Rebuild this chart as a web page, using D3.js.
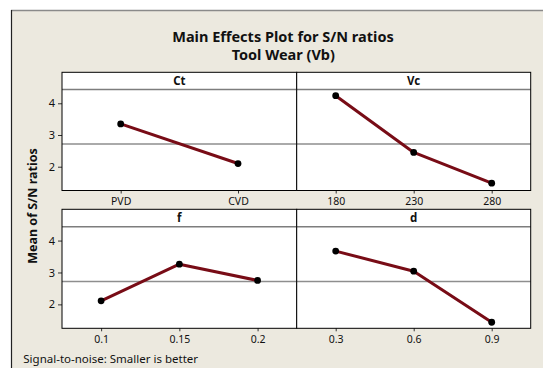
<!DOCTYPE html>
<html>
<head>
<meta charset="utf-8">
<script src="https://cdn.jsdelivr.net/npm/d3@7"></script>
<style>
  html, body { margin: 0; padding: 0; background: #ffffff; }
  svg { display: block; }
  text { font-family: "Noto Sans", "Open Sans", sans-serif; fill: #111; }
</style>
</head>
<body>
<svg id="chart" width="543" height="368"></svg>
<script>
// Factor levels and mean S/N ratios (dB) for tool wear
const ctLevels = ["PVD", "CVD"];
const ctMeans  = [3.35, 2.10];
const vcLevels = ["180", "230", "280"];
const vcMeans  = [4.24, 2.45, 1.48];
const fLevels  = ["0.1", "0.15", "0.2"];
const fMeans   = [2.11, 3.26, 2.75];
const dLevels  = ["0.3", "0.6", "0.9"];
const dMeans   = [3.67, 3.04, 1.44];
const yTicks   = [2, 3, 4];

const factors = [
  { name: "Ct", levels: ctLevels, means: ctMeans, col: 0, row: 0 },
  { name: "Vc", levels: vcLevels, means: vcMeans, col: 1, row: 0 },
  { name: "f",  levels: fLevels,  means: fMeans,  col: 0, row: 1 },
  { name: "d",  levels: dLevels,  means: dMeans,  col: 1, row: 1 }
];

// Grand mean of the S/N ratios (reference line)
const grandMean = d3.mean(factors.map(f => d3.mean(f.means)));

// Layout
const cols = [[62, 296.7], [296.7, 530.7]];
const rows = [
  { top: 72.3, stripBottom: 89.5, bottom: 190.5 },
  { top: 209.3, stripBottom: 226.7, bottom: 328.3 }
];
const yDomain = [1.25, 4.435];

const svg = d3.select("#chart");

// Worksheet background and frame
svg.append("rect").attr("x", 11).attr("y", 10).attr("width", 540).attr("height", 370)
  .attr("fill", "#ece9df");
svg.append("line").attr("x1", 11).attr("x2", 543).attr("y1", 10.5).attr("y2", 10.5)
  .attr("stroke", "#8a8a8a").attr("stroke-width", 1.5);
svg.append("line").attr("x1", 11.5).attr("x2", 11.5).attr("y1", 10).attr("y2", 368)
  .attr("stroke", "#222").attr("stroke-width", 1.2);

// Titles
svg.append("text").attr("x", 283).attr("y", 41.7).attr("text-anchor", "middle")
  .attr("font-size", 14.5).attr("font-weight", "bold").text("Main Effects Plot for S/N ratios");
svg.append("text").attr("x", 283.3).attr("y", 60).attr("text-anchor", "middle")
  .attr("font-size", 14.5).attr("font-weight", "bold").text("Tool Wear (Vb)");

// Y axis title
svg.append("text")
  .attr("transform", "translate(37,206) rotate(-90)")
  .attr("text-anchor", "middle").attr("font-size", 12.5).attr("font-weight", "bold")
  .text("Mean of S/N ratios");

// Footnote
svg.append("text").attr("x", 23.3).attr("y", 362.7).attr("font-size", 11.5)
  .text("Signal-to-noise: Smaller is better");

factors.forEach(fac => {
  const [x0, x1] = cols[fac.col];
  const r = rows[fac.row];
  const g = svg.append("g");

  const x = d3.scalePoint().domain(fac.levels).range([x0, x1]).padding(0.5);
  const y = d3.scaleLinear().domain(yDomain).range([r.bottom, r.stripBottom]);

  // panel box
  g.append("rect").attr("x", x0).attr("y", r.top).attr("width", x1 - x0)
    .attr("height", r.bottom - r.top).attr("fill", "#ffffff");

  // strip
  g.append("line").attr("x1", x0).attr("x2", x1)
    .attr("y1", r.stripBottom).attr("y2", r.stripBottom)
    .attr("stroke", "#7d7d7d").attr("stroke-width", 1.6);
  g.append("text").attr("x", (x0 + x1) / 2).attr("y", r.stripBottom - 4.3)
    .attr("text-anchor", "middle").attr("font-size", 11.5).attr("font-weight", "bold")
    .text(fac.name);

  // grand mean reference
  g.append("line").attr("x1", x0).attr("x2", x1)
    .attr("y1", y(grandMean)).attr("y2", y(grandMean))
    .attr("stroke", "#8e8e8e").attr("stroke-width", 1.5);

  // main effect line and points
  const pts = fac.levels.map((lv, i) => [x(lv), y(fac.means[i])]);
  g.append("path").attr("d", d3.line()(pts)).attr("fill", "none")
    .attr("stroke", "#780c16").attr("stroke-width", 3).attr("stroke-linejoin", "round");
  g.selectAll("circle.pt").data(pts).join("circle").attr("class", "pt")
    .attr("cx", d => d[0]).attr("cy", d => d[1]).attr("r", 3.4).attr("fill", "#000");

  // x axis
  const xAxis = d3.axisBottom(x).tickSize(3).tickPadding(4);
  const gx = g.append("g").attr("transform", `translate(0,${r.bottom})`).call(xAxis);
  gx.select(".domain").remove();
  gx.selectAll("line").attr("stroke", "#333");
  gx.selectAll("text").attr("font-size", 10.5).attr("fill", "#222")
    .attr("font-family", "'Noto Sans', sans-serif");

  // y axis (left column only)
  if (fac.col === 0) {
    const yAxis = d3.axisLeft(y).tickValues(yTicks).tickSize(4).tickPadding(3)
      .tickFormat(d3.format("d"));
    const gy = g.append("g").attr("transform", `translate(${x0},0)`).call(yAxis);
    gy.select(".domain").remove();
    gy.selectAll("line").attr("stroke", "#333");
    gy.selectAll("text").attr("font-size", 11).attr("fill", "#222")
      .attr("font-family", "'Noto Sans', sans-serif");
  }

  // panel border
  g.append("rect").attr("x", x0).attr("y", r.top).attr("width", x1 - x0)
    .attr("height", r.bottom - r.top).attr("fill", "none")
    .attr("stroke", "#000").attr("stroke-width", 1);
});
</script>
</body>
</html>
